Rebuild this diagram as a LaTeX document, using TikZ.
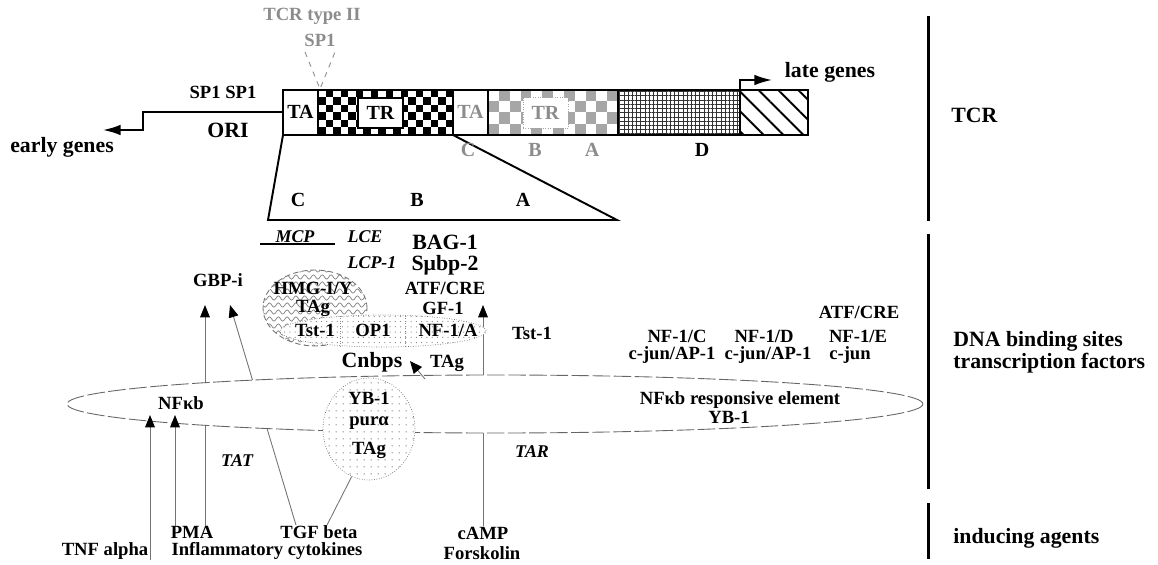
\documentclass[tikz,border=0pt]{standalone}
\usepackage{fontspec}
\setmainfont{Liberation Serif}
\usepackage{tikz}
\usetikzlibrary{positioning,arrows.meta,patterns,patterns.meta,decorations.pathmorphing,shapes.geometric}

\begin{document}
\begin{tikzpicture}[x=0.02cm,y=-0.02cm,
  lab/.style={font=\fontsize{10.6}{11}\selectfont\bfseries,inner sep=0pt,align=center},
  big/.style={font=\fontsize{12.4}{11.3}\selectfont\bfseries,inner sep=0pt,align=left},
  glab/.style={lab,text=black!45},
  ilab/.style={font=\fontsize{10.2}{11}\selectfont\bfseries\itshape,inner sep=0pt},
  seg/.style={font=\fontsize{11.4}{12}\selectfont\bfseries,inner sep=0pt},
  outl/.style={line width=1.1pt},
  prom/.style={line width=1pt,-{Latex[length=10pt,width=6pt]}},
  arr/.style={black!55,line width=0.5pt,-{Triangle[length=7pt,width=5.5pt,color=black]}},
  link/.style={black!55,line width=0.5pt},
  sep/.style={line width=1.7pt}]
  \useasboundingbox (0,0) rectangle (1158,564);

  \draw[sep] (928,16) -- (928,221);
  \draw[sep] (928,234) -- (928,489);
  \draw[sep] (928,503) -- (928,559);
  \node[big,anchor=west] (tcrlab) at (951,115) {TCR};
  \node[big,anchor=west] (dnalab) at (953,352) {DNA binding sites\\transcription factors};
  \node[big,anchor=west] (indlab) at (953,538) {inducing agents};

  % genome bar
  \foreach \i in {0,...,17}{
    \foreach \j in {0,...,5}{
      \pgfmathtruncatemacro{\odd}{mod(\i+\j,2)}
      \ifnum\odd=1 \fill ({318+7.5*\i},{90+7.5*\j}) rectangle ++(7.5,7.5);\fi}}
  \foreach \i in {0,...,11}{
    \foreach \j in {0,...,3}{
      \pgfmathtruncatemacro{\odd}{mod(\i+\j,2)}
      \ifnum\odd=1 \fill[black!35] ({488+130/12*\i},{90+11.25*\j}) rectangle ++({130/12},11.25);\fi}}
  \fill[pattern={Lines[angle=0,distance=2.4pt,line width=0.55pt]},pattern color=black!80] (618,90) rectangle (740,135);
  \fill[pattern={Lines[angle=90,distance=2.4pt,line width=0.55pt]},pattern color=black!80] (618,90) rectangle (740,135);
  \fill[pattern={Lines[angle=-45,distance=8pt,line width=1.1pt]}] (740,90) rectangle (808,135);
  \draw[outl] (283,90) rectangle (808,135);
  \foreach \x in {318,453,488,618,740} \draw[outl] (\x,90) -- (\x,135);
  \node[seg,draw,fill=white,line width=0.6pt,minimum width=0.9cm,minimum height=0.6cm] (trbox) at (380.5,113) {TR};
  \node[seg,text=black!45,fill=white,draw=black!35,densely dotted,minimum width=0.9cm,minimum height=0.62cm] (trgbox) at (545.5,113) {TR};
  \node[seg] (ta) at (300.5,112) {TA};
  \node[seg,text=black!45] (tag) at (470.5,112) {TA};

  \coordinate (oriA) at (283,112);
  \coordinate (etip) at (103,130);
  \draw[prom] (oriA) -- (143,112) |- (etip);
  \coordinate (lateA) at (740,90);
  \coordinate (ltip) at (772,80);
  \draw[prom] (lateA) |- (ltip);
  \coordinate (vtip) at (320,89);
  \draw[black!45,dashed,line width=0.5pt] (305,52) -- (vtip) -- (335,52);
  \draw[outl] (283,135) -- (268,220) -- (617,220) -- (453,135);
  \draw[line width=0.8pt] (260,244) -- (335,244);

  \node[glab] (tcrII) at (312,16) {TCR type II};
  \node[glab] (sp1g) at (320,40) {SP1};
  \node[lab] (spsp) at (223,92) {SP1 SP1};
  \node[big] (ori) at (228,130) {ORI};
  \node[big] (early) at (62,147) {early genes};
  \node[big] (late) at (830,72) {late genes};
  \node[seg,text=black!45] (gC) at (468,150) {C};
  \node[seg,text=black!45] (gB) at (535,150) {B};
  \node[seg,text=black!45] (gA) at (592,150) {A};
  \node[seg] (rD) at (702,150) {D};
  \node[seg] (rC) at (298,200) {C};
  \node[seg] (rB) at (417,200) {B};
  \node[seg] (rA) at (523,200) {A};

  \node[lab] (tnf) at (105,551) {TNF alpha};
  \node[lab] (pma) at (192,532) {PMA};
  \node[lab] (infl) at (267,551) {Inflammatory cytokines};
  \node[lab] (tgf) at (319,532) {TGF beta};
  \node[lab] (camp) at (483,533) {cAMP};
  \node[lab] (forsk) at (482,553) {Forskolin};

  \coordinate (gbptipA) at (205,305);
  \coordinate (gbptipB) at (230,305);
  \coordinate (gftip) at (483,305);
  \draw[arr] (pma.north -| gbptipA) -- (gbptipA);
  \draw[arr] ([xshift=-0.46cm]tgf.north) -- (gbptipB);
  \draw[arr] (camp.north) -- (gftip);

  \node[ellipse,minimum width=17.12cm,minimum height=1.16cm,inner sep=0pt,draw=black!60,fill=white,dash pattern=on 10pt off 2pt,line width=0.5pt] (nfkbel) at (495,404) {};

  \begin{scope}
    \clip (315,308) ellipse [x radius=1.04cm,y radius=0.76cm];
    \foreach \k in {0,...,11}
      \draw[black!50,line width=0.4pt,decorate,decoration={snake,segment length=5pt,amplitude=1.2pt}] (258,{270+7*\k}) -- (375,{270+7*\k});
  \end{scope}
  \node[ellipse,minimum width=2.08cm,minimum height=1.52cm,inner sep=0pt,draw=black!55,densely dashed,line width=0.5pt] (hmgel) at (315,308) {};
  \node[ellipse,minimum width=4.12cm,minimum height=0.64cm,inner sep=0pt,draw=black!55,densely dotted,preaction={fill=white},pattern={Dots[distance=3pt,radius=0.35pt]},pattern color=black!50] (tstel) at (383,331) {};
  \draw[black!45,densely dotted] (340,316) -- (340,346);
  \draw[black!45,densely dotted] (405,316) -- (405,346);
  \node[ellipse,minimum width=1.84cm,minimum height=2.04cm,inner sep=0pt,draw=black!55,densely dotted,preaction={fill=white},pattern={Dots[distance=4pt,radius=0.45pt]},pattern color=black!55] (ybc) at (369,429) {};

  \draw[link] ([xshift=0.16cm]tgf.north) -- (ybc.250);
  \coordinate (tnftip) at (150,415);
  \coordinate (pmatip) at (175,415);
  \draw[arr] (tnftip |- tnf.south) -- (tnftip);
  \draw[arr] (pmatip |- pma.north) -- (pmatip);
  \coordinate (cnbase) at (425,379);
  \coordinate (cntip) at (410,361);
  \draw[black!55,line width=0.5pt,-{Triangle[length=7pt,width=6pt,color=black]}] (cnbase) -- (cntip);

  \node[ilab] (mcp) at (295,237) {MCP};
  \node[ilab] (lce) at (365,237) {LCE};
  \node[ilab] (lcp) at (372,263) {LCP-1};
  \node[big] (bag) at (445,242) {BAG-1};
  \node[big] (smu) at (445,265) {Sμbp-2};
  \node[lab] (atfa) at (445,288) {ATF/CRE};
  \node[lab] (gf) at (443,308) {GF-1};
  \node[lab] (gbp) at (218,280) {GBP-i};
  \node[lab] (hmg) at (313,288) {HMG-I/Y};
  \node[lab] (tagh) at (313,308) {TAg};
  \node[lab] (tsta) at (315,330) {Tst-1};
  \node[lab] (op) at (373,330) {OP1};
  \node[lab] (nfa) at (448,330) {NF-1/A};
  \node[lab] (tstb) at (532,333) {Tst-1};
  \node[big] (cnbps) at (372,362) {Cnbps};
  \node[lab] (tagc) at (447,363) {TAg};
  \node[lab,anchor=base] (atfb) at (859,318) {ATF/CRE};
  \node[lab,anchor=base] (nfc) at (677,342) {NF-1/C};
  \node[lab,anchor=base] (nfd) at (764,342) {NF-1/D};
  \node[lab,anchor=base] (nfe) at (858,342) {NF-1/E};
  \node[lab,anchor=base] (cja) at (672,359) {c-jun/AP-1};
  \node[lab,anchor=base] (cjb) at (768,359) {c-jun/AP-1};
  \node[lab,anchor=base] (cjc) at (850,359) {c-jun};
  \node[lab] (nfkb) at (181,403) {NFκb};
  \node[lab,anchor=base] (nfre) at (740,404) {NFκb responsive element};
  \node[lab,anchor=base] (ybr) at (729,423) {YB-1};
  \node[lab] (yb) at (369,398) {YB-1};
  \node[lab] (pura) at (369,423) {purα};
  \node[lab] (tagy) at (369,450) {TAg};
  \node[ilab] (tat) at (237,461) {TAT};
  \node[ilab] (tar) at (532,452) {TAR};
\end{tikzpicture}
\end{document}
